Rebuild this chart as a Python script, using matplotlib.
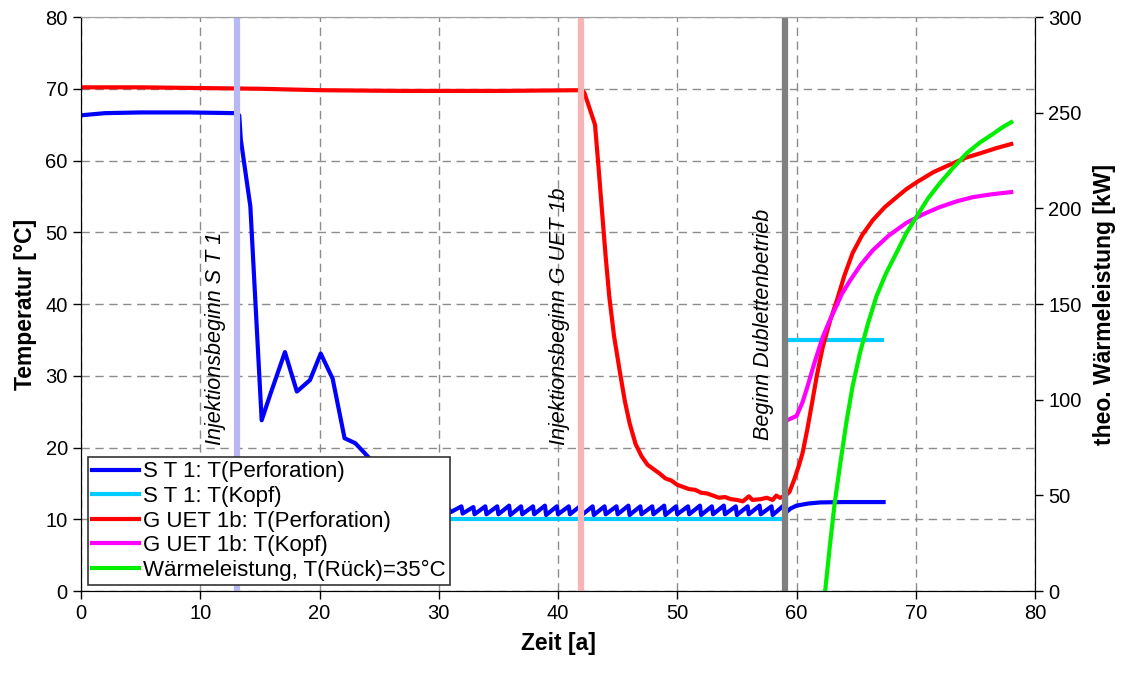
import matplotlib
matplotlib.use("Agg")
import matplotlib.pyplot as plt

plt.rcParams['font.family'] = ['Liberation Sans', 'DejaVu Sans']

# S T 1: T(Perforation) - before the injection phase and the first drop
st1_perf_x = [0, 2, 5, 9, 13.0, 13.27, 13.4, 14.2, 15.15, 15.85, 17.1, 18.1, 19.2,
              20.1, 21.1, 22.1, 23.0, 23.8, 25.0, 26.5, 28.0, 29.5, 30.5]
st1_perf_y = [66.3, 66.6, 66.7, 66.7, 66.6, 66.3, 62.9, 53.6, 23.8, 27.3, 33.3, 27.8, 29.4,
              33.1, 29.6, 21.3, 20.6, 19.2, 17.0, 14.8, 13.5, 12.8, 12.5]

# yearly injection cycles (sawtooth) 31 .. 58
saw_years = [31, 32, 33, 34, 35, 36, 37, 38, 39, 40, 41, 42, 43, 44,
             45, 46, 47, 48, 49, 50, 51, 52, 53, 54, 55, 56, 57, 58]
saw_low = [11.0, 10.8, 10.7, 10.7, 10.7, 10.6, 10.7, 10.7, 10.6, 10.7, 10.7, 10.6, 10.6, 10.7,
           10.7, 10.6, 10.7, 10.7, 10.6, 10.7, 10.7, 10.6, 10.7, 10.7, 10.6, 10.7, 10.7, 10.6]
saw_high = [11.8, 11.7, 11.8, 11.8, 11.9, 11.8, 11.8, 11.9, 11.8, 11.8, 11.9, 11.8, 11.8, 11.8,
            11.9, 11.8, 11.8, 11.9, 11.8, 11.8, 11.9, 11.8, 11.9, 11.8, 11.8, 11.9, 11.8, 11.9]

# S T 1: T(Perforation) after start of doublet operation
st1_late_x = [59.0, 59.5, 60.0, 61.0, 62.0, 64.0, 67.3]
st1_late_y = [10.8, 11.5, 11.9, 12.2, 12.35, 12.4, 12.4]

# S T 1: T(Kopf)
st1_kopf_x = [24.0, 59.15, 59.15, 67.2]
st1_kopf_y = [10.0, 10.0, 35.0, 35.0]

# G UET 1b: T(Perforation)
guet_perf_x = [0, 5, 10, 15, 20, 27, 35, 42.0, 42.2, 42.6, 43.1, 43.4, 43.7, 44.0, 44.3,
               44.7, 45.2, 45.6, 46.0, 46.5,
               47.0, 47.5, 48.0, 48.5, 49.0, 49.5, 50.0, 50.5, 51.0, 51.5, 52.0, 52.5, 53.0,
               53.5, 54.0, 54.5, 55.0, 55.5, 56.0, 56.3, 57.0, 57.5, 58.0, 58.3, 58.6, 59.0,
               59.4, 59.8, 60.2, 60.5, 60.9, 61.3, 61.7, 62.2, 62.8, 63.4, 64.0, 64.7, 65.5,
               66.4, 67.4, 68.4, 69.2, 70.1, 71.5, 73.1, 74.2, 75.4, 76.7, 78.0]
guet_perf_y = [70.2, 70.2, 70.1, 70.0, 69.8, 69.7, 69.7, 69.8, 69.5, 67.5, 65.0, 59.0, 52.7,
               46.5, 41.0, 35.5, 30.4, 26.5, 23.4, 20.5,
               18.8, 17.6, 17.0, 16.4, 15.7, 15.4, 14.8, 14.5, 14.2, 14.1, 13.7,
               13.6, 13.3, 13.0, 13.1, 12.8, 12.7, 12.5, 13.2, 12.7, 12.8, 13.0, 12.7, 13.3,
               13.0, 13.2,
               13.8, 15.5, 17.5, 19.2, 22.5, 26.2, 30.0, 34.0, 37.6, 40.6, 43.9, 47.1, 49.6,
               51.7, 53.5, 54.9, 56.0, 57.0, 58.4, 59.6, 60.4, 61.0, 61.7, 62.3]

# G UET 1b: T(Kopf)
guet_kopf_x = [59.2, 60.0, 60.5, 60.9, 61.5, 62.2, 62.7, 63.2, 63.8, 64.5, 65.4, 66.4,
               67.7, 69.2, 70.6, 72.0, 73.4, 74.8, 76.4, 78.0]
guet_kopf_y = [23.8, 24.4, 26.3, 28.4, 31.8, 35.4, 37.4, 39.2, 41.4, 43.3, 45.5, 47.5,
               49.5, 51.3, 52.5, 53.5, 54.3, 54.9, 55.3, 55.6]

# Wärmeleistung [kW], right axis
power_x = [62.4, 62.8, 63.2, 63.7, 64.2, 64.7, 65.3, 66.0, 66.7, 67.5, 68.4, 69.2,
           70.1, 71.0, 72.0, 73.1, 74.3, 75.4, 76.5, 77.3, 78.0]
power_y = [0, 24, 46, 68, 89, 107, 124, 140, 154, 166, 177, 187,
           196, 205, 213, 221, 229, 234.5, 239, 242.5, 245]

# event markers
events_x = [13.05, 41.95, 59.0]
events_text = ['Injektionsbeginn S T 1', 'Injektionsbeginn G UET 1b', 'Beginn Dublettenbetrieb']
events_color = ['#b8b8f4', '#f6b4b4', '#808080']

x_ticks = [0, 10, 20, 30, 40, 50, 60, 70, 80]
t_ticks = [0, 10, 20, 30, 40, 50, 60, 70, 80]
p_ticks = [0, 50, 100, 150, 200, 250, 300]

# build the sawtooth polyline from the cycle extrema
saw_x, saw_y = [], []
for yr, lo, hi in zip(saw_years, saw_low, saw_high):
    saw_x += [yr, yr + 0.9]
    saw_y += [lo, hi]
perf_x = st1_perf_x + saw_x + st1_late_x
perf_y = st1_perf_y + saw_y + st1_late_y

fig = plt.figure(figsize=(11.22, 6.75), dpi=100)
ax = fig.add_axes([0.0722, 0.1244, 0.8503, 0.8504])
ax2 = ax.twinx()

lw = 3
l1, = ax.plot(perf_x, perf_y, color='#0000ff', lw=lw, label='S T 1: T(Perforation)', zorder=3)
l2, = ax.plot(st1_kopf_x, st1_kopf_y, color='#00ccff', lw=lw, label='S T 1: T(Kopf)', zorder=2)
l3, = ax.plot(guet_perf_x, guet_perf_y, color='#ff0000', lw=lw, label='G UET 1b: T(Perforation)', zorder=3)
l4, = ax.plot(guet_kopf_x, guet_kopf_y, color='#ff00ff', lw=lw, label='G UET 1b: T(Kopf)', zorder=3)
l5, = ax2.plot(power_x, power_y, color='#00ee00', lw=lw, label='Wärmeleistung, T(Rück)=35°C')

for xv, col in zip(events_x, events_color):
    ax.axvline(xv, color=col, lw=4.5, zorder=4)
for xv, yv, txt in zip([11.3, 40.1, 57.2], [20.3, 20.3, 21.0], events_text):
    ax.text(xv, yv, txt, rotation=90, ha='center', va='bottom',
            fontsize=15.5, style='italic', zorder=5)

ax.set_xlim(0, 80)
ax.set_ylim(0, 80)
ax2.set_ylim(0, 300)
ax.set_xticks(x_ticks)
ax.set_yticks(t_ticks)
ax2.set_yticks(p_ticks)

ax.grid(True, color='#8c8c8c', linestyle=(0, (6, 4)), lw=1)
ax.set_axisbelow(True)

for a in (ax, ax2):
    a.tick_params(labelsize=14.5, length=6, width=1, direction='out')
    a.spines['top'].set_color('#a0a0a0')
ax.set_xlabel('Zeit [a]', fontsize=16.5, fontweight='bold', labelpad=6)
ax.set_ylabel('Temperatur [°C]', fontsize=16.5, fontweight='bold', labelpad=6)
ax2.set_ylabel('theo. Wärmeleistung [kW]', fontsize=16.5, fontweight='bold', labelpad=8)

leg = ax2.legend(handles=[l1, l2, l3, l4, l5], loc='lower left',
                 bbox_to_anchor=(0.007, 0.01), fontsize=16, frameon=True,
                 fancybox=False, framealpha=1, edgecolor='#333333',
                 handlelength=2.1, handletextpad=0.2, labelspacing=0.16,
                 borderpad=0.2, borderaxespad=0)
leg.get_frame().set_linewidth(1.2)

fig.savefig('out.png', dpi=100)
